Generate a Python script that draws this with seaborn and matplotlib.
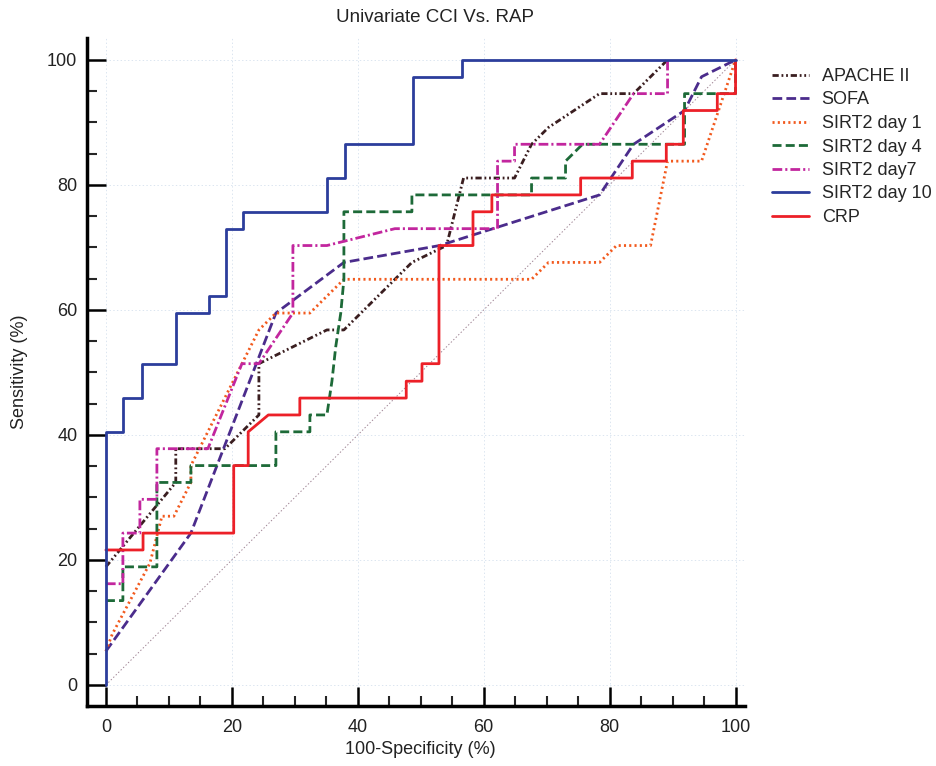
import numpy as np
import matplotlib
matplotlib.use('Agg')
import matplotlib.pyplot as plt
import seaborn as sns
from matplotlib.ticker import MultipleLocator

# ROC vertices: 100-specificity (%) vs sensitivity (%)
apache_x = [0, 11.1, 11.1, 18.9, 24.3, 24.3, 35.1, 37.8, 48.6, 54.1, 56.8, 64.9, 67.6, 70.3, 78.4, 83.8, 89.2]
apache_y = [18.9, 32.4, 37.8, 37.8, 43.2, 51.4, 56.8, 56.8, 67.6, 70.3, 81.1, 81.1, 86.5, 89.2, 94.6, 94.6, 100]

sofa_x = [0, 13.5, 27.0, 37.8, 53.0, 78.4, 83.8, 91.9, 94.6, 100]
sofa_y = [5.4, 24.3, 59.5, 67.6, 70.3, 78.4, 86.5, 91.9, 97.3, 100]

day1_x = [0, 1.0, 7.0, 8.9, 10.8, 13.5, 13.5, 24.3, 27.0, 32.4, 37.8, 67.6, 70.3, 78.4, 81.1, 86.5, 89.2, 94.6, 97.3, 100]
day1_y = [5.4, 8.1, 19.5, 27.0, 27.0, 32.4, 35.1, 56.8, 59.5, 59.5, 64.9, 64.9, 67.6, 67.6, 70.3, 70.3, 83.8, 83.8, 91.9, 100]

day4_x = [0, 2.7, 2.7, 8.1, 8.1, 13.5, 13.5, 27.0, 27.0, 32.4, 32.4, 35.1, 35.9, 36.5, 37.3, 37.8, 37.8,
          48.6, 48.6, 67.6, 67.6, 73.0, 73.0, 75.7, 91.9, 91.9, 100, 100]
day4_y = [13.5, 13.5, 18.9, 18.9, 32.4, 32.4, 35.1, 35.1, 40.5, 40.5, 43.2, 43.2, 48.6, 54.1, 59.5, 64.9, 75.7,
          75.7, 78.4, 78.4, 81.1, 81.1, 83.8, 86.5, 86.5, 94.6, 94.6, 100]

day7_x = [0, 2.7, 2.7, 5.4, 5.4, 8.1, 8.1, 16.2, 21.6, 24.3, 29.7, 29.7, 35.1, 45.9, 62.2, 62.2, 64.9, 64.9,
          78.4, 83.8, 89.2, 89.2]
day7_y = [16.2, 16.2, 24.3, 24.3, 29.7, 29.7, 37.8, 37.8, 51.4, 51.4, 59.5, 70.3, 70.3, 73.0, 73.0, 83.8, 83.8, 86.5,
          86.5, 94.6, 94.6, 100]

day10_x = [0, 0, 2.7, 2.7, 5.7, 5.7, 11.1, 11.1, 16.4, 16.4, 19.1, 19.1, 21.8, 21.8, 35.1, 35.1, 38.0, 38.0,
           48.8, 48.8, 56.6, 56.6, 100]
day10_y = [0, 40.5, 40.5, 45.9, 45.9, 51.4, 51.4, 59.5, 59.5, 62.2, 62.2, 73.0, 73.0, 75.7, 75.7, 81.1, 81.1, 86.5,
           86.5, 97.3, 97.3, 100, 100]

crp_x = [0, 5.9, 5.9, 20.3, 20.3, 22.6, 22.6, 25.8, 30.8, 30.8, 47.7, 47.7, 50.2, 50.2, 52.9, 52.9, 58.3, 58.3,
         61.3, 61.3, 75.4, 75.4, 83.6, 83.6, 89.0, 89.0, 91.7, 91.7, 97.1, 97.1, 100, 100]
crp_y = [21.6, 21.6, 24.3, 24.3, 35.1, 35.1, 40.5, 43.2, 43.2, 45.9, 45.9, 48.6, 48.6, 51.4, 51.4, 70.3, 70.3, 75.7,
         75.7, 78.4, 78.4, 81.1, 81.1, 83.8, 83.8, 86.5, 86.5, 91.9, 91.9, 94.6, 94.6, 100]

diag = [0, 100]

sns.set_style('white')
plt.rcParams['font.family'] = ['Liberation Sans', 'DejaVu Sans']
plt.rcParams['lines.scale_dashes'] = False

fig = plt.figure(figsize=(9.36, 7.66), dpi=100, facecolor='w')
ax = fig.add_axes([87/936, 1 - 706/766, (745 - 87)/936, (706 - 38)/766])

lw = 2.0
sns.lineplot(x=diag, y=diag, sort=False, estimator=None, color='#a08595', lw=0.7,
             linestyle=(0, (1, 1.5)), ax=ax)

series = [
    ('APACHE II', apache_x, apache_y, '#3a1e20', (0, (4.5, 2, 1.3, 2, 1.3, 2))),
    ('SOFA', sofa_x, sofa_y, '#4b2c8c', (0, (7, 3))),
    ('SIRT2 day 1', day1_x, day1_y, '#f25a1e', (0, (1.5, 2.3))),
    ('SIRT2 day 4', day4_x, day4_y, '#1d6a38', (0, (6.5, 3))),
    ('SIRT2 day7', day7_x, day7_y, '#c2269e', (0, (7, 2.2, 1.5, 2.2))),
    ('SIRT2 day 10', day10_x, day10_y, '#2c3d9c', '-'),
    ('CRP', crp_x, crp_y, '#ec2028', '-'),
]
# blue drawn last so it sits on top along the left edge and the top
order = [0, 1, 2, 3, 4, 6, 5]
lines = {}
for i in order:
    name, xs, ys, col, ls = series[i]
    sns.lineplot(x=xs, y=ys, sort=False, estimator=None, color=col, lw=lw,
                 linestyle=ls, ax=ax)
    lines[name] = ax.lines[-1]

ax.set_xlim(-3.0, 101.5)
ax.set_ylim(-3.36, 103.5)
ax.xaxis.set_major_locator(MultipleLocator(20))
ax.xaxis.set_minor_locator(MultipleLocator(5))
ax.yaxis.set_major_locator(MultipleLocator(20))
ax.yaxis.set_minor_locator(MultipleLocator(5))
ax.grid(True, which='major', color='#dbe5f0', linestyle=':', lw=0.7)
ax.grid(False, which='minor')
ax.set_axisbelow(True)

sns.despine(ax=ax)
for s in ['left', 'bottom']:
    ax.spines[s].set_linewidth(2.5)
    ax.spines[s].set_color('black')
ax.tick_params(which='major', direction='in', length=13.5, width=1.8, labelsize=13,
               pad=7, left=True, bottom=True, colors='black')
ax.tick_params(which='minor', direction='in', length=7, width=1.5, left=True, bottom=True)
ax.tick_params(axis='x', pad=9)
for lab in ax.get_xticklabels() + ax.get_yticklabels():
    lab.set_color('#222222')

ax.set_xlabel('')
ax.set_ylabel('')
names = [s[0] for s in series]
fig.legend([lines[n] for n in names], names, loc='upper left', bbox_to_anchor=(772/936, 1 - 68/766),
           frameon=False, fontsize=13, handlelength=2.05, handletextpad=0.7,
           labelspacing=0.36, borderpad=0, borderaxespad=0)

fig.text(435/936, 1 - 18/766, 'Univariate CCI Vs. RAP', ha='center', va='center', fontsize=13.5, color='#222222')
fig.text(420/936, 1 - 750/766, '100-Specificity (%)', ha='center', va='center', fontsize=13, color='#222222')
fig.text(20/936, 1 - 372/766, 'Sensitivity (%)', ha='center', va='center', rotation=90, fontsize=13, color='#222222')

plt.savefig('out.png', dpi=100, facecolor='w')
